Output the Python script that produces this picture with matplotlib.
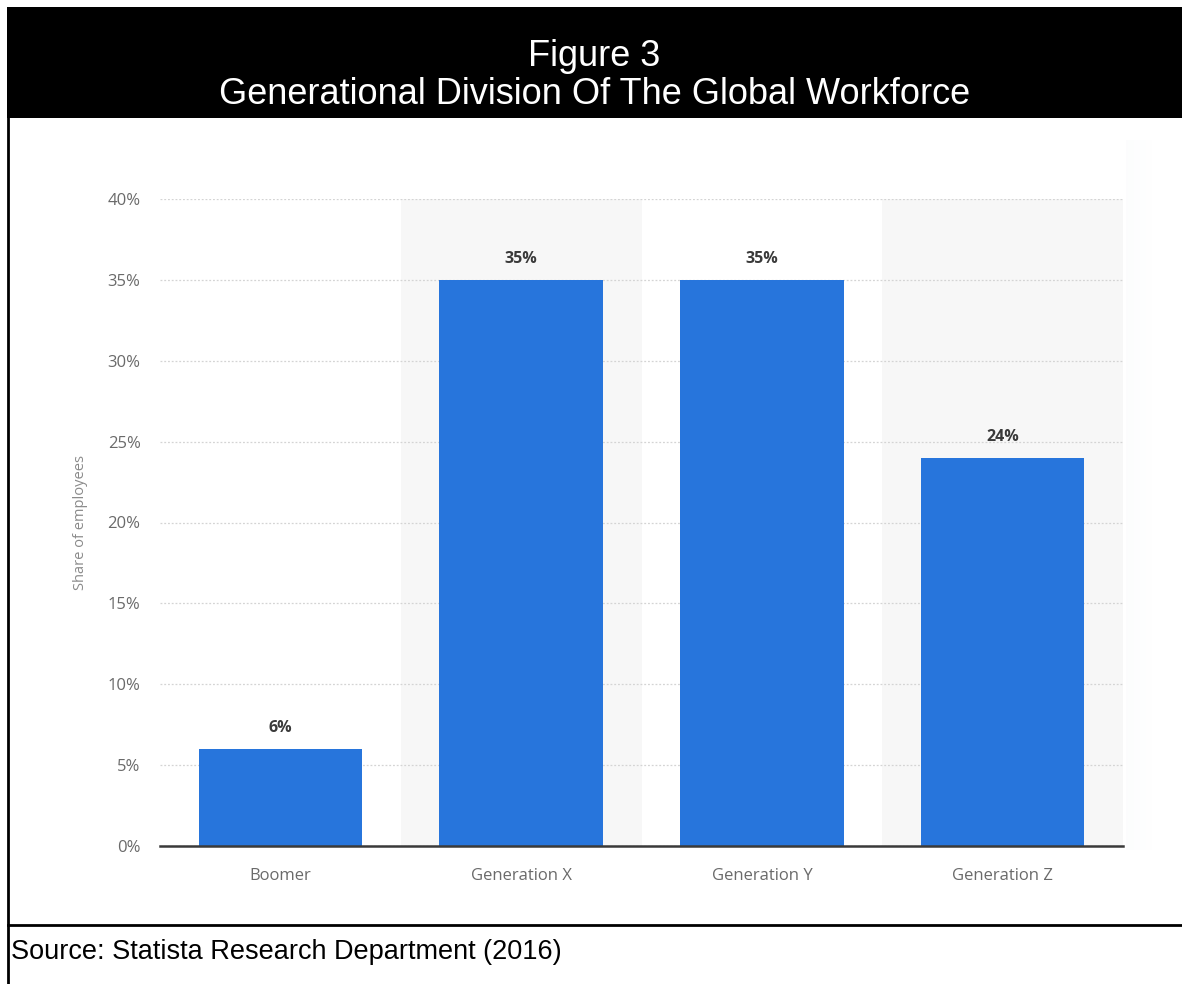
import matplotlib
matplotlib.use("Agg")
import matplotlib.pyplot as plt
from matplotlib.patches import Rectangle
from matplotlib.lines import Line2D

categories = ["Boomer", "Generation X", "Generation Y", "Generation Z"]
shares = [6, 35, 35, 24]
yticks = [0, 5, 10, 15, 20, 25, 30, 35, 40]
title_line1 = "Figure 3"
title_line2 = "Generational Division Of The Global Workforce"
source_text = "Source: Statista Research Department (2016)"
ylabel = "Share of employees"

W, H = 1182, 984
fig = plt.figure(figsize=(W / 100, H / 100), dpi=100)
fig.patch.set_facecolor("white")

def fx(px):
    return px / W

def fy(py):
    return 1 - py / H

HEADER_BOTTOM = 118

# Header black box
fig.add_artist(Rectangle((fx(7), fy(HEADER_BOTTOM)), fx(1182 - 7), (HEADER_BOTTOM - 7) / H,
                         transform=fig.transFigure, facecolor="black",
                         edgecolor="none", zorder=0))
fig.text(0.5 + fx(7) / 2, fy(56), title_line1, color="white", fontsize=26,
         family=["Liberation Sans", "DejaVu Sans"], ha="center", va="center")
fig.text(0.5 + fx(7) / 2, fy(95), title_line2, color="white", fontsize=26,
         family=["Liberation Sans", "DejaVu Sans"], ha="center", va="center")

# Frame lines
lw = 2
fig.add_artist(Line2D([fx(8), fx(8)], [fy(8), fy(984)], transform=fig.transFigure,
                      color="black", lw=lw))
fig.add_artist(Line2D([fx(8), fx(1182)], [fy(925), fy(925)], transform=fig.transFigure,
                      color="black", lw=lw))

fig.text(fx(11), fy(952), source_text, color="black", fontsize=19.5,
         family=["Liberation Sans", "DejaVu Sans"], ha="left", va="center")

# Subtle shadow on the right side
for i in range(14):
    a = 0.018 * (1 - i / 14)
    fig.add_artist(Rectangle((fx(1126 + i * 2), fy(850)), fx(2), (850 - 140) / H,
                             transform=fig.transFigure, facecolor="#7f93b0",
                             alpha=a, edgecolor="none", zorder=0))

# Chart axes
ax = fig.add_axes([fx(160), fy(846), fx(1123 - 160), (846 - 199) / H])
x = list(range(len(categories)))
ax.set_xlim(-0.5, len(categories) - 0.5)
ax.set_ylim(0, 40)

for i in x:
    if i % 2 == 1:
        ax.axvspan(i - 0.5, i + 0.5, color="#f7f7f7", zorder=0, lw=0)

ax.set_yticks(yticks)
ax.set_yticklabels([f"{v}%" for v in yticks])
ax.yaxis.grid(True, color="#d4d4d4", linestyle=(0, (1.5, 1.5)), lw=0.9, zorder=1)
ax.set_axisbelow(True)

bars = ax.bar(x, shares, width=0.68, color="#2775dc", zorder=3)
for xi, v in zip(x, shares):
    ax.text(xi, v + 0.8, f"{v}%", ha="center", va="bottom", fontsize=11.5,
            fontweight="bold", color="#3a3a3a", family=["Open Sans", "DejaVu Sans"])

ax.set_xticks(x)
ax.set_xticklabels(categories)
for s in ["top", "right", "left"]:
    ax.spines[s].set_visible(False)
ax.spines["bottom"].set_color("#3a3a3a")
ax.spines["bottom"].set_linewidth(1.8)
ax.spines["bottom"].set_zorder(4)
ax.tick_params(axis="both", length=0, labelcolor="#6a6a6a", labelsize=12)
ax.tick_params(axis="y", pad=14)
ax.tick_params(axis="x", pad=16)
for lab in ax.get_xticklabels() + ax.get_yticklabels():
    lab.set_family(["Open Sans", "DejaVu Sans"])

ax.set_ylabel(ylabel, color="#8a8a8a", fontsize=10.5, family=["Open Sans", "DejaVu Sans"],
              labelpad=14)
ax.set_facecolor("white")

fig.savefig("out.png", dpi=100, facecolor="white")
